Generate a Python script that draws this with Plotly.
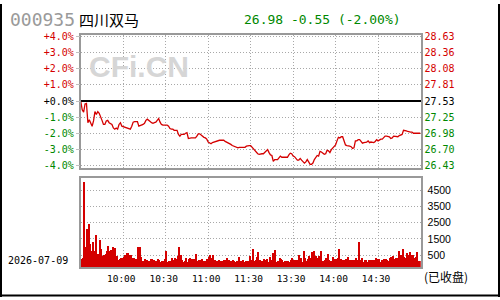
import plotly.graph_objects as go

# ---------------- data ----------------
PREV_CLOSE = 27.53
STOCK_CODE = "000935"
STOCK_NAME = "四川双马"
TRADE_DATE = "2026-07-09"
STATUS = "(已收盘)"

PRICE_AM = [
    27.52, 27.38, 27.34, 27.48, 27.49, 27.16, 27.21, 27.16, 27.10, 27.19,
    27.35, 27.30, 27.35, 27.32, 27.24, 27.20, 27.13, 27.13, 27.19, 27.20,
    27.16, 27.15, 27.13, 27.07, 27.05, 27.07, 27.05, 27.13, 27.16, 27.10,
    27.09, 27.09, 27.07, 27.07, 27.06, 27.05, 27.10, 27.17, 27.18, 27.18,
    27.18, 27.10, 27.11, 27.11, 27.13, 27.15, 27.20, 27.22, 27.19, 27.18,
    27.16, 27.15, 27.16, 27.17, 27.20, 27.23, 27.17, 27.13, 27.12, 27.12,
    27.13, 27.12, 27.10, 27.06, 27.05, 27.05, 27.03, 27.03, 27.03, 26.96,
    26.93, 26.96, 26.96, 26.96, 26.98, 26.99, 26.89, 26.90, 26.90, 26.90,
    26.90, 26.90, 26.93, 26.97, 26.97, 26.95, 26.92, 26.91, 26.90, 26.88,
    26.83, 26.82, 26.80, 26.82, 26.83, 26.83, 26.84, 26.85, 26.86, 26.86,
    26.86, 26.86, 26.84, 26.83, 26.82, 26.81, 26.79, 26.77, 26.76, 26.75,
    26.73, 26.73, 26.74, 26.74, 26.73, 26.73, 26.74, 26.76, 26.77, 26.77,
    26.77,
]
PRICE_PM = [
    26.74, 26.70, 26.68, 26.65, 26.63, 26.62, 26.63, 26.63, 26.63, 26.65,
    26.68, 26.70, 26.65, 26.61, 26.60, 26.50, 26.53, 26.53, 26.53, 26.56,
    26.59, 26.57, 26.57, 26.56, 26.56, 26.57, 26.61, 26.64, 26.63, 26.59,
    26.58, 26.55, 26.52, 26.52, 26.55, 26.52, 26.49, 26.47, 26.49, 26.53,
    26.49, 26.45, 26.45, 26.47, 26.53, 26.57, 26.60, 26.59, 26.67, 26.66,
    26.63, 26.62, 26.63, 26.69, 26.68, 26.65, 26.70, 26.73, 26.76, 26.78,
    26.85, 26.91, 26.90, 26.92, 26.92, 26.83, 26.78, 26.77, 26.77, 26.76,
    26.75, 26.72, 26.73, 26.85, 26.85, 26.87, 26.87, 26.83, 26.81, 26.82,
    26.82, 26.83, 26.85, 26.82, 26.83, 26.83, 26.82, 26.84, 26.87, 26.85,
    26.87, 26.88, 26.88, 26.91, 26.93, 26.93, 26.92, 26.92, 26.89, 26.90,
    26.93, 26.93, 26.92, 26.92, 26.94, 26.95, 26.96, 27.03, 27.03, 27.02,
    27.01, 27.00, 27.00, 27.00, 26.98, 26.98, 26.98, 26.98, 26.98, 26.98,
]
VOLUME_AM = [
    260, 300, 5000, 1000, 2120, 2420, 1200, 740, 1280, 740,
    1760, 560, 560, 1400, 860, 420, 500, 560, 740, 1040,
    740, 800, 980, 500, 920, 440, 200, 260, 320, 320,
    350, 500, 620, 620, 500, 500, 300, 320, 260, 260,
    980, 980, 380, 140, 140, 260, 200, 140, 140, 260,
    260, 200, 140, 150, 260, 200, 80, 150, 140, 260,
    740, 80, 140, 150, 300, 200, 320, 250, 440, 980,
    500, 200, 80, 140, 320, 80, 260, 320, 250, 260,
    260, 540, 150, 200, 200, 260, 140, 140, 140, 260,
    380, 480, 300, 500, 200, 150, 140, 200, 150, 140,
    80, 200, 200, 320, 200, 150, 140, 200, 140, 80,
    150, 380, 80, 150, 200, 80, 140, 150, 140, 440,
    200,
]
VOLUME_PM = [
    860, 140, 200, 380, 680, 200, 100, 150, 260, 200,
    260, 80, 380, 200, 600, 500, 800, 80, 150, 320,
    260, 200, 80, 150, 140, 140, 80, 200, 320, 200,
    200, 200, 200, 500, 320, 40, 740, 300, 140, 260,
    440, 300, 680, 740, 300, 440, 300, 440, 740, 100,
    140, 200, 300, 540, 200, 140, 40, 380, 250, 250,
    300, 860, 260, 140, 200, 200, 250, 380, 200, 200,
    200, 200, 200, 320, 200, 1280, 200, 320, 80, 200,
    200, 80, 200, 200, 200, 140, 200, 320, 250, 260,
    80, 200, 200, 260, 260, 200, 140, 320, 380, 440,
    260, 300, 320, 740, 380, 500, 860, 400, 320, 620,
    500, 680, 500, 500, 320, 400, 680, 150, 150, 150,
]
PCT_TICKS = [4, 3, 2, 1, 0, -1, -2, -3, -4]
VOL_TICKS = [4500, 3500, 2500, 1500, 500]
TIME_TICK_LABELS = ["10:00", "10:30", "11:00", "11:30", "13:30", "14:00", "14:30"]

# trading minutes: 09:30-11:30 and 13:01-15:00
def _minutes(h0, m0, h1, m1):
    out = []
    t, end = h0 * 60 + m0, h1 * 60 + m1
    while t <= end:
        out.append(f"{t // 60:02d}:{t % 60:02d}")
        t += 1
    return out

TIMES = _minutes(9, 30, 11, 30) + _minutes(13, 1, 15, 0)
PRICES = PRICE_AM + PRICE_PM
VOLUMES = VOLUME_AM + VOLUME_PM
PCTS = [(p / PREV_CLOSE - 1) * 100 for p in PRICES]

# ---------------- style ----------------
W, H = 500, 300
RED = "#d40000"
GREEN = "#008800"
BLACK = "#000000"
GRID = "#a8a8a8"
BORDER = "#999999"
MONO = "DejaVu Sans Mono"
CJK = "Noto Sans CJK SC"

X0, X1 = 80.8 / W, 420.5 / W
PY0, PY1 = 1 - 167.7 / H, 1 - 32.0 / H
VY0, VY1 = 1 - 269.3 / H, 1 - 178.3 / H
PCT_MIN, PCT_MAX = -4.14, 4.08
P_MIN = PREV_CLOSE * (1 + PCT_MIN / 100)
P_MAX = PREV_CLOSE * (1 + PCT_MAX / 100)
VOL_MIN, VOL_MAX = -241, 5265


def colored(txt, v):
    c = RED if v > 0 else (GREEN if v < 0 else BLACK)
    return f'<span style="color:{c}">{txt}</span>'


pct_text = [colored(f"{p:+.1f}%", p) for p in PCT_TICKS]
price_vals = [PREV_CLOSE * (1 + p / 100) for p in PCT_TICKS]
price_text = [colored(f"{v:.2f}", p) for v, p in zip(price_vals, PCT_TICKS)]

fig = go.Figure()
# invisible copy on the percent axis so that axis (grid, zero line, labels) is drawn
fig.add_trace(go.Scatter(
    x=TIMES, y=PCTS, mode="lines", xaxis="x", yaxis="y3",
    line=dict(color="rgba(0,0,0,0)", width=0), hoverinfo="skip"))
fig.add_trace(go.Scatter(
    x=TIMES, y=PRICES, mode="lines", xaxis="x", yaxis="y",
    line=dict(color=RED, width=1.3), hoverinfo="skip"))
fig.add_trace(go.Bar(
    x=TIMES, y=[v - VOL_MIN for v in VOLUMES], base=VOL_MIN,
    width=0.72, offset=0, xaxis="x2", yaxis="y2",
    marker=dict(color=RED, line=dict(width=0)), hoverinfo="skip"))

common_x = dict(
    type="category", range=[0, len(TIMES) - 1], domain=[X0, X1],
    tickmode="array", tickvals=TIME_TICK_LABELS, ticktext=TIME_TICK_LABELS,
    showgrid=True, gridcolor=GRID, griddash="1px,2px", gridwidth=1,
    showline=True, linecolor=BORDER, linewidth=2, mirror=True,
    zeroline=False, ticks="", fixedrange=True,
)

last = PRICES[-1]
chg = last - PREV_CLOSE
chg_pct = chg / PREV_CLOSE * 100
quote = f"{last:.2f} {chg:+.2f} ({chg_pct:+.2f}%)"

fig.update_layout(
    width=W, height=H, autosize=False,
    margin=dict(l=0, r=0, t=0, b=0),
    paper_bgcolor="white", plot_bgcolor="white",
    showlegend=False, bargap=0,
    xaxis=dict(common_x, anchor="y", showticklabels=False),
    xaxis2=dict(common_x, anchor="y2", showticklabels=True,
                tickfont=dict(family=MONO, size=9.5, color=BLACK),
                ticklabelshift=-2, ticklabelstandoff=2),
    yaxis=dict(domain=[PY0, PY1], anchor="x", side="right",
               range=[P_MIN, P_MAX], tickmode="array",
               tickvals=price_vals, ticktext=price_text,
               tickfont=dict(family=MONO, size=10),
               showgrid=False, zeroline=False,
               showline=True, linecolor=BORDER, linewidth=2, mirror=True,
               ticks="", ticklabelstandoff=0),
    yaxis3=dict(overlaying="y", anchor="x", side="left",
                range=[PCT_MIN, PCT_MAX], tickmode="array",
                tickvals=PCT_TICKS, ticktext=pct_text,
                tickfont=dict(family=MONO, size=10),
                showgrid=True, gridcolor=GRID, griddash="1px,2px",
                zeroline=True, zerolinecolor=BLACK, zerolinewidth=1.5,
                showline=False, ticks="outside", ticklen=4,
                tickcolor="#c0c0c0", tickwidth=1),
    yaxis2=dict(domain=[VY0, VY1], anchor="x2", side="right",
                range=[VOL_MIN, VOL_MAX], tickmode="array",
                tickvals=VOL_TICKS, ticktext=[str(v) for v in VOL_TICKS],
                tickfont=dict(family="Liberation Sans", size=10.5, color=BLACK),
                showgrid=True, gridcolor=GRID, griddash="1px,2px",
                zeroline=False, showline=True, linecolor=BORDER,
                linewidth=2, mirror=True, ticks="", ticklabelstandoff=3),
)

ann = [
    dict(text=STOCK_CODE, x=8 / W, y=1 - 16 / H, xanchor="left",
         font=dict(family=MONO, size=18, color="#9a9a9a")),
    dict(text=STOCK_NAME, x=77 / W, y=1 - 15.5 / H, xanchor="left",
         font=dict(family=CJK, size=15, color=BLACK)),
    dict(text=quote, x=242 / W, y=1 - 15.5 / H, xanchor="left",
         font=dict(family=MONO, size=13, color=GREEN)),
    dict(text="<b>CFi.CN</b>", x=138.5 / W, y=1 - 63.5 / H, xanchor="center",
         font=dict(family="Liberation Sans", size=30, color="#d6d6d6")),
    dict(text=TRADE_DATE, x=6 / W, y=1 - 262.7 / H, xanchor="left",
         font=dict(family=MONO, size=10, color=BLACK)),
    dict(text=STATUS, x=446 / W, y=1 - 279 / H, xanchor="center",
         font=dict(family=CJK, size=12, color=BLACK)),
]
for a in ann:
    a.update(xref="paper", yref="paper", yanchor="middle", showarrow=False)
fig.update_layout(annotations=ann)

frame = dict(type="line", xref="paper", yref="paper",
             line=dict(color=BLACK, width=2))
fig.update_layout(shapes=[
    dict(frame, x0=1 / W, x1=1 / W, y0=0, y1=1),
    dict(frame, x0=499 / W, x1=499 / W, y0=0, y1=1),
    dict(frame, x0=0, x1=1, y0=1.5 / H, y1=1.5 / H),
])

fig.write_html("out.html")
